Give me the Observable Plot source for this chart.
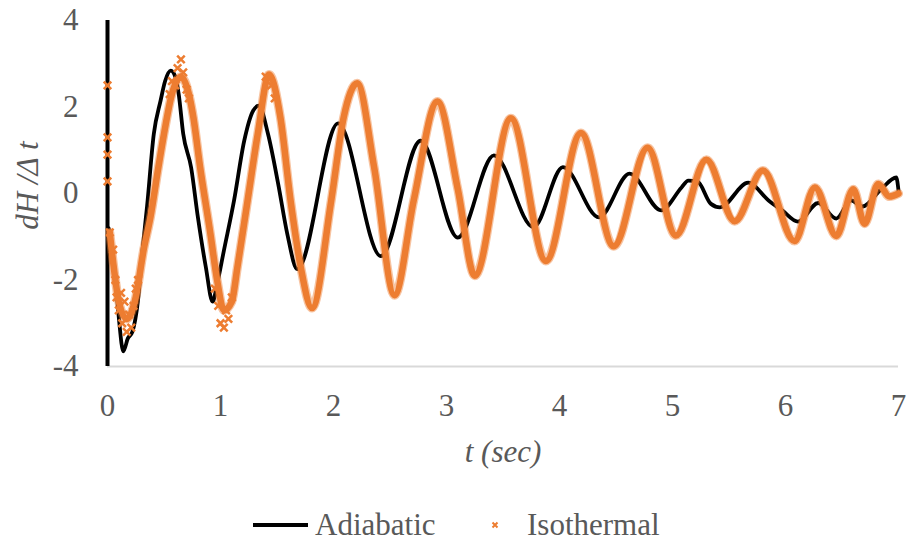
<!DOCTYPE html>
<html><head><meta charset="utf-8">
<script src="https://cdn.jsdelivr.net/npm/d3@7"></script>
<script src="https://cdn.jsdelivr.net/npm/@observablehq/plot@0.6"></script>
<style>body{margin:0;background:#fff;} #chart{width:908px;}</style>
</head><body><div id="chart"></div>
<script>
// ---- data ----
const xTicks = [0, 1, 2, 3, 4, 5, 6, 7];
const yTicks = [-4, -2, 0, 2, 4];
const xLabel = "t (sec)";
const yLabel = "dH /\u0394 t";
const seriesNames = ["Adiabatic", "Isothermal"];

const adiabaticT = [0.01,0.07,0.10,0.14,0.18,0.22,0.27,0.31,0.35,0.41,0.47,0.51,0.56,0.60,0.63,0.67,0.74,0.80,0.87,0.93,0.97,1.03,1.12,1.21,1.29,1.34,1.42,1.51,1.59,1.68,2.04,2.42,2.77,3.10,3.42,3.77,4.03,4.35,4.62,4.90,5.08,5.14,5.22,5.34,5.42,5.67,5.85,5.97,6.11,6.29,6.45,6.58,6.68,6.85,6.98,7.00];
const adiabaticY = [-0.8,-1.93,-2.86,-3.65,-3.35,-3.2,-2.47,-1.3,-0.3,1.38,2.15,2.6,2.84,2.7,2.3,1.38,0.6,-0.55,-1.7,-2.5,-2.1,-1.32,-0.16,1.22,1.92,2.03,1.38,0.23,-0.92,-1.75,1.62,-1.45,1.22,-1.02,0.88,-0.78,0.61,-0.55,0.46,-0.39,0.14,0.30,0.28,-0.24,-0.32,0.25,-0.16,-0.39,-0.65,-0.22,-0.58,-0.16,-0.3,0.11,0.37,0.07];

const isothermalT = [0.02,0.06,0.10,0.17,0.25,0.32,0.38,0.45,0.50,0.57,0.65,0.72,0.76,0.82,0.91,0.97,1.03,1.10,1.15,1.24,1.33,1.43,1.53,1.62,1.71,1.81,1.98,2.09,2.21,2.36,2.54,2.71,2.92,3.10,3.25,3.57,3.88,4.19,4.48,4.78,5.03,5.30,5.55,5.80,6.08,6.26,6.45,6.60,6.70,6.82,6.92,7.00];
const isothermalY = [-0.9,-1.8,-2.5,-2.9,-2.4,-1.3,-0.55,0.6,1.38,2.3,2.7,2.3,1.76,0.6,-0.92,-2.0,-2.7,-2.5,-1.7,-0.16,1.38,2.75,1.76,-0.16,-1.7,-2.65,-0.16,1.76,2.55,0.6,-2.35,-0.16,2.13,0.1,-1.9,1.74,-1.56,1.4,-1.22,1.06,-0.97,0.78,-0.64,0.53,-1.1,0.14,-0.98,0.1,-0.7,0.22,-0.07,0.0];

// scattered (noisy) isothermal markers
const isoScatterT = [0,0,0,0,0.02,0.05,0.07,0.08,0.10,0.12,0.13,0.15,0.17,0.19,0.21,0.23,0.25,0.27,0.55,0.57,0.60,0.62,0.65,0.67,0.70,0.72,0.95,0.98,1.00,1.03,1.05,1.07,1.10,1.40,1.45,1.48];
const isoScatterY = [2.5,1.3,0.9,0.28,-0.9,-1.3,-2.0,-2.4,-2.7,-2.3,-3.0,-2.5,-3.2,-2.8,-3.1,-2.6,-2.2,-2.0,2.3,2.6,2.5,2.9,3.1,2.8,2.4,2.2,-2.2,-2.6,-3.0,-3.1,-2.7,-2.9,-2.4,2.7,2.5,2.2];

const adia = adiabaticT.map((t, i) => ({t, v: adiabaticY[i]}));
const iso = isothermalT.map((t, i) => ({t, v: isothermalY[i]}));
const isoPts = isoScatterT.map((t, i) => ({t, v: isoScatterY[i]}));

const orange = "#ED7D31";
const grey = "#595959";
const fam = "\"Liberation Serif\", \"Times New Roman\", \"DejaVu Serif\", serif";
const fmt = d => d < 0 ? "-" + Math.abs(d) : String(d);

const plot = Plot.plot({
  width: 908, height: 490,
  marginLeft: 107, marginRight: 10, marginTop: 20, marginBottom: 124,
  style: {fontFamily: fam, fontSize: "31px", color: grey, background: "#fff", overflow: "visible"},
  x: {domain: [0, 7], ticks: xTicks, tickSize: 0, tickPadding: 27, label: null, tickFormat: fmt},
  y: {domain: [-4, 4], ticks: yTicks, tickSize: 0, tickPadding: 29, label: null, tickFormat: fmt},
  marks: [
    Plot.ruleY([-4], {stroke: "#D9D9D9", strokeWidth: 2}),
    Plot.ruleX([0], {y1: -4, y2: 4, stroke: "#000", strokeWidth: 4}),
    Plot.line(adia, {x: "t", y: "v", stroke: "#000", strokeWidth: 3.8, curve: "monotone-x"}),
    Plot.line(iso, {x: "t", y: "v", stroke: orange, strokeOpacity: 0.45, strokeWidth: 9, curve: "monotone-x"}),
    Plot.line(iso, {x: "t", y: "v", stroke: orange, strokeWidth: 6.5, curve: "monotone-x"}),
    Plot.dot(isoPts, {x: "t", y: "v", symbol: "times", r: 3.5, stroke: orange, strokeWidth: 2.5}),
    Plot.text([xLabel], {text: d => d, frameAnchor: "bottom", textAnchor: "middle", dy: 86, fontStyle: "italic", fontSize: 31, fill: grey, lineAnchor: "middle"}),
    Plot.text([yLabel], {text: d => d, frameAnchor: "left", textAnchor: "middle", dx: -79, dy: -8, rotate: -90, fontStyle: "italic", fontSize: 31, fill: grey, lineAnchor: "middle"})
  ]
});
document.getElementById("chart").appendChild(plot);

// legend below the plot
const leg = d3.select("#chart").append("svg")
  .attr("width", 908).attr("height", 52).style("display", "block")
  .style("font-family", fam).style("font-size", "31px");
leg.append("line").attr("x1", 253).attr("x2", 308).attr("y1", 35).attr("y2", 35)
  .attr("stroke", "#000").attr("stroke-width", 4);
leg.append("text").attr("x", 315).attr("y", 45).attr("fill", grey).text(seriesNames[0]);
leg.append("path").attr("d", "M492.5,32.5L497.5,37.5M497.5,32.5L492.5,37.5")
  .attr("stroke", orange).attr("stroke-width", 2);
leg.append("text").attr("x", 527).attr("y", 45).attr("fill", grey).text(seriesNames[1]);
</script></body></html>
